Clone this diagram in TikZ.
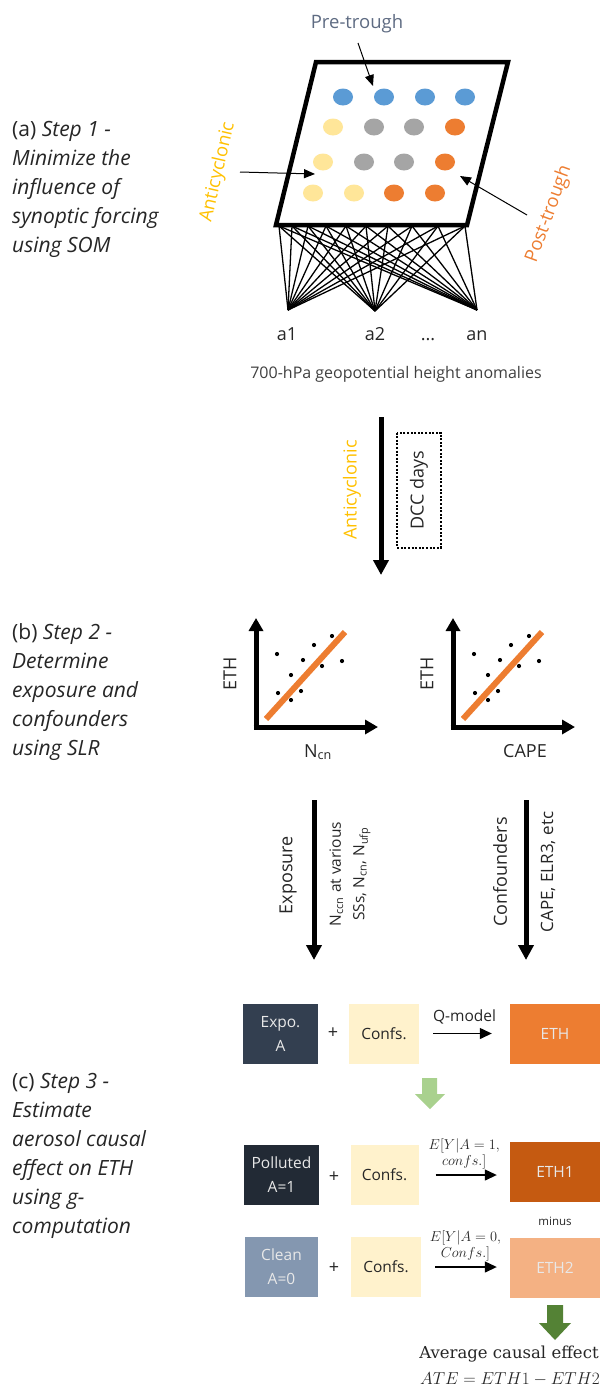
\documentclass[tikz,border=0pt]{standalone}
\usepackage{fontspec}
\setsansfont{Open Sans}
\newfontfamily\resultfont{DejaVu Serif}
\usetikzlibrary{arrows.meta,shapes.geometric}
\definecolor{txt}{HTML}{262626}
\definecolor{subtxt}{HTML}{404040}
\definecolor{somblue}{HTML}{5B9BD5}
\definecolor{somyellow}{HTML}{FFE699}
\definecolor{somgray}{HTML}{A5A5A5}
\definecolor{somorange}{HTML}{ED7D31}
\definecolor{antiyellow}{HTML}{FFC000}
\definecolor{preslate}{HTML}{5E6B82}
\definecolor{expofill}{HTML}{333F50}
\definecolor{pollfill}{HTML}{222A35}
\definecolor{cleanfill}{HTML}{8497B0}
\definecolor{confsfill}{HTML}{FFF2CC}
\definecolor{ethfill}{HTML}{ED7D31}
\definecolor{ethonefill}{HTML}{C55A11}
\definecolor{ethtwofill}{HTML}{F4B183}
\definecolor{lightgreen}{HTML}{A9D18E}
\definecolor{darkgreen}{HTML}{548235}
\definecolor{boxtxt}{HTML}{E8E8E8}
\begin{document}
\begin{tikzpicture}[x=1pt,y=-1pt,
  every node/.style={inner sep=0pt},
  steptext/.style={anchor=north west, align=left, text=txt,
    font=\sffamily\fontsize{21}{29}\selectfont},
  lbl/.style={text=txt, font=\sffamily\fontsize{18}{21}\selectfont},
  smalllbl/.style={text=txt, font=\sffamily\fontsize{15.5}{23.5}\selectfont},
  dot/.style={ellipse, minimum width=20pt, minimum height=17pt},
  thinarrow/.style={-{Triangle[length=11pt,width=9pt]}, line width=1pt},
  bigarrow/.style={-{Triangle[length=15pt,width=15pt]}, line width=5pt},
  axisline/.style={-{Triangle[length=13pt,width=14pt]}, line width=5pt},
  netline/.style={line width=1.3pt},
  scatterdot/.style={circle, fill=black, minimum size=4.2pt},
  fitline/.style={line width=6pt, somorange},
  box/.style={minimum height=60pt, align=center,
    font=\sffamily\fontsize{15.5}{24}\selectfont},
  qarrow/.style={-{Triangle[length=12pt,width=11pt]}, line width=1.3pt},
  mathlbl/.style={align=center, text=txt, font=\fontsize{13.5}{16}\selectfont},
  plus/.style={text=txt, font=\sffamily\fontsize{18}{20}\selectfont}]
\useasboundingbox (0,0) rectangle (605,1395);

% ---------------- (a) SOM ----------------
\node[steptext] (stepa) at (12,121)
  {(a) \textit{Step 1 -}\\\textit{Minimize the}\\\textit{influence of}\\
   \textit{synoptic forcing}\\\textit{using SOM}};

\coordinate (p1) at (316,62);
\coordinate (p2) at (508,62);
\coordinate (p3) at (467,225);
\coordinate (p4) at (276,225);

% network from the map to the input anomalies
\coordinate (b1) at (288,310);
\coordinate (b2) at (375,311);
\coordinate (b3) at (477,310);
\foreach \i/\x in {1/279,2/292,3/308,4/326,5/346,6/366,7/388,8/412,9/438,10/465}
  \coordinate (t\i) at (\x,226);
\foreach \i in {1,...,10}
  \foreach \j in {1,2,3}
    \draw[netline] (t\i) -- (b\j);

\draw[line width=4.5pt, line join=miter, fill=white] (p1) -- (p2) -- (p3) -- (p4) -- cycle;

\foreach \n/\x/\y/\c in {
  11/343/97/somblue, 12/384/97/somblue, 13/425/97/somblue, 14/465/97/somblue,
  21/333/127/somyellow, 22/374/127/somgray, 23/414/127/somgray, 24/455/127/somorange,
  31/323/162/somyellow, 32/364/162/somgray, 33/404/162/somgray, 34/445/162/somorange,
  41/313/193/somyellow, 42/354/193/somyellow, 43/394/193/somorange, 44/435/193/somorange}
  \node[dot, fill=\c] (d\n) at (\x,\y) {};

\node[lbl, text=preslate, anchor=base, font=\sffamily\fontsize{18.5}{21}\selectfont]
  (pretext) at (357,28) {Pre-trough};
\coordinate (preS) at (358,43);
\coordinate (preE) at (373,86);
\draw[thinarrow] (preS) -- (preE);

\node[lbl, text=antiyellow, rotate=77, font=\sffamily\fontsize{18.5}{21}\selectfont]
  (antitext) at (218,172) {Anticyclonic};
\coordinate (antiS) at (240,172);
\coordinate (antiE) at (315,174);
\draw[thinarrow] (antiS) -- (antiE);

\node[lbl, text=somorange, rotate=70, font=\sffamily\fontsize{18.5}{21}\selectfont]
  (posttext) at (549,214) {Post-trough};
\coordinate (postS) at (527,215);
\coordinate (postE) at (460,176);
\draw[thinarrow] (postS) -- (postE);

\node[lbl, anchor=base] (a1) at (287,340) {a1};
\node[lbl, anchor=base] (a2) at (375,340) {a2};
\node[lbl, anchor=base] (adots) at (428,340) {...};
\node[lbl, anchor=base] (an) at (477,340) {an};
\node[lbl, text=subtxt, anchor=base, font=\sffamily\fontsize{16}{20}\selectfont]
  (gph) at (396,378) {700-hPa geopotential height anomalies};

% ---------------- selection of days ----------------
\coordinate (selS) at (381,417);
\coordinate (selE) at (381,575);
\draw[bigarrow] (selS) -- (selE);
\node[lbl, text=antiyellow, rotate=90] (antisel) at (352,490) {Anticyclonic};
\node[lbl, rotate=90, draw, line width=2pt, dash pattern=on 2pt off 1.6pt,
  minimum width=115pt, minimum height=44pt] (dcc) at (419,490) {DCC days};

% ---------------- (b) SLR ----------------
\node[steptext] (stepb) at (12,623)
  {(b) \textit{Step 2 -}\\\textit{Determine}\\\textit{exposure and}\\
   \textit{confounders}\\\textit{using SLR}};

\foreach \ox/\xl/\name/\lab in {256/318/ncn/{N\textsubscript{cn}}, 453/525/cape/CAPE} {
  \begin{scope}[shift={(\ox,727)}]
    \draw[axisline] (0,2.5) -- (0,-109);
    \draw[axisline] (-2.5,0) -- (122,0);
    \draw[fitline] (10,-8) -- (89,-95);
    \foreach \dx/\dy in {21/-73, 58/-82, 76/-91, 47/-67, 86/-66, 66/-61,
                         35/-52, 22/-34, 45/-36, 35/-27}
      \node[scatterdot] at (\dx,\dy) {};
    \node[lbl, rotate=90] (eth\name) at (-26,-53) {ETH};
  \end{scope}
  \node[lbl, anchor=base] (x\name) at (\xl,757) {\lab};
}

\coordinate (expS) at (314,800);
\coordinate (expE) at (314,960);
\draw[bigarrow] (expS) -- (expE);
\node[lbl, rotate=90] (exposure) at (288,875) {Exposure};
\node[smalllbl, rotate=90, align=center] (expvars) at (350,874)
  {N\textsubscript{ccn} at various\\SSs, N\textsubscript{cn}, N\textsubscript{ufp}};

\coordinate (conS) at (526,800);
\coordinate (conE) at (526,960);
\draw[bigarrow] (conS) -- (conE);
\node[lbl, rotate=90] (confounders) at (500,872) {Confounders};
\node[smalllbl, rotate=90, font=\sffamily\fontsize{17}{20}\selectfont] (convars) at (548,872) {CAPE, ELR3, etc};

% ---------------- (c) g-computation ----------------
\node[steptext] (stepc) at (12,1073)
  {(c) \textit{Step 3 -}\\\textit{Estimate}\\\textit{aerosol causal}\\
   \textit{effect on ETH}\\\textit{using g-}\\\textit{computation}};

% Q-model row
\node[box, fill=expofill, text=boxtxt, minimum width=75pt] (expo) at (280.5,1033.5) {Expo.\\A};
\node[plus] (plusa) at (333,1033) {+};
\node[box, fill=confsfill, text=txt, minimum width=70pt] (confa) at (384,1033.5) {Confs.};
\node[box, fill=ethfill, text=boxtxt, minimum width=90pt] (eth) at (555,1033.5) {ETH};
\draw[qarrow, shorten <=14pt, shorten >=18pt] (confa.east) -- (eth.west)
  node[midway, above=9pt, lbl, font=\sffamily\fontsize{15.5}{18}\selectfont] (qmodel) {Q-model};

% block arrow towards the counterfactual rows
\fill[lightgreen] (422,1078) -- (437,1078) -- (437,1094) -- (445,1094)
  -- (430,1109) -- (415,1094) -- (422,1094) -- cycle;

% polluted row
\node[box, fill=pollfill, text=boxtxt, minimum width=75pt] (poll) at (281.5,1175) {Polluted\\A=1};
\node[plus] (plusb) at (334,1177) {+};
\node[box, fill=confsfill, text=txt, minimum width=68pt] (confb) at (384.5,1175) {Confs.};
\node[box, fill=ethonefill, text=boxtxt, minimum width=90pt] (ethone) at (555,1172) {ETH1};
\draw[qarrow, shorten <=17pt, shorten >=13pt] (confb.east) -- (confb.east -| ethone.west)
  node[midway, above=5pt, mathlbl] (eqone) {$E[Y|A=1,$\\$confs.]$};

\node[text=txt, font=\sffamily\fontsize{11.5}{14}\selectfont] (minus) at (555,1221) {minus};

% clean row
\node[box, fill=cleanfill, text=boxtxt, minimum width=73pt] (clean) at (281.5,1267) {Clean\\A=0};
\node[plus] (plusc) at (334,1268) {+};
\node[box, fill=confsfill, text=txt, minimum width=70pt] (confc) at (386,1267) {Confs.};
\node[box, fill=ethtwofill, text=boxtxt, minimum width=90pt] (ethtwo) at (555,1267.5) {ETH2};
\draw[qarrow, shorten <=14pt, shorten >=13pt] (confc.east) -- (confc.east -| ethtwo.west)
  node[midway, above=5pt, mathlbl] (eqzero) {$E[Y|A=0,$\\$Confs.]$};

% block arrow to the result
\fill[darkgreen] (547,1305) -- (563,1305) -- (563,1323) -- (571,1323)
  -- (555,1340) -- (539,1323) -- (547,1323) -- cycle;

\node[anchor=base, text=txt, font=\resultfont\fontsize{16.5}{20}\selectfont] (avg) at (509,1358)
  {Average causal effect};
\node[anchor=base, text=txt, font=\fontsize{17}{20}\selectfont] (ate) at (510,1384)
  {$ATE = ETH1 - ETH2$};
\end{tikzpicture}
\end{document}
